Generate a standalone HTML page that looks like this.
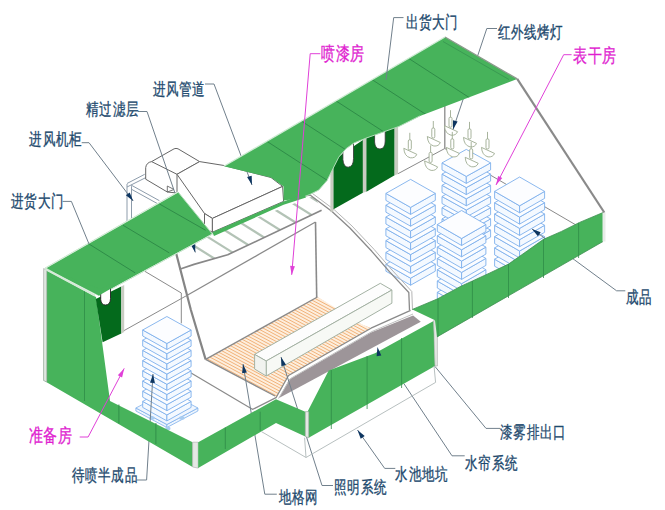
<!DOCTYPE html><html><head><meta charset="utf-8"><style>html,body{margin:0;padding:0;background:#fff;width:665px;height:510px;overflow:hidden;position:relative}svg{display:block;position:absolute;left:0;top:0}.L{position:absolute;width:0;height:0}.L span{position:absolute;display:block;font-family:"Liberation Sans",sans-serif;white-space:nowrap}.b span{color:#1e4a6e;-webkit-text-stroke:1.2px #1e4a6e;font-size:17px;line-height:17px;letter-spacing:0.7px;left:-1.7px;top:-8.08px;transform-origin:0 8.08px;transform:scaleY(1.43)}.p span{color:#e01ed0;-webkit-text-stroke:1.2px #e01ed0;font-size:18.5px;line-height:18.5px;letter-spacing:1.8px;left:-1.85px;top:-8.79px;transform-origin:0 8.79px;transform:scaleY(1.47)}.cjk .b span{-webkit-text-stroke:0.25px #1e4a6e;font-size:12.5px;line-height:12.5px;letter-spacing:0.15px;left:-0.4px;top:-4.8px;transform-origin:0 6.25px;transform:scaleY(1.36)}.cjk .p span{-webkit-text-stroke:0.25px #e01ed0;font-size:14px;line-height:14px;letter-spacing:0.3px;left:-0.4px;top:-7px;transform-origin:0 7px;transform:scaleY(1.36)}</style></head><body>
<svg width="665" height="510" viewBox="0 0 665 510">
<rect width="665" height="510" fill="#fff"/>
<polyline points="444.8,105.8 444.8,148.5" fill="none" stroke="#8a8a8a" stroke-width="1.3" stroke-linejoin="round" />
<polyline points="398.0,173.7 444.8,148.5 576.0,225.0" fill="none" stroke="#8a8a8a" stroke-width="1.0" stroke-linejoin="round" />
<polygon points="442.0,230.1 466.3,243.6 466.3,250.6 442.0,237.1" fill="#f4f9ff" stroke="#7eb0ec" stroke-width="0.9" stroke-linejoin="round"/>
<polygon points="466.3,243.6 490.6,230.1 490.6,237.1 466.3,250.6" fill="#f4f9ff" stroke="#7eb0ec" stroke-width="0.9" stroke-linejoin="round"/>
<polygon points="442.0,230.1 466.3,216.6 490.6,230.1 466.3,243.6" fill="#fcfdff" stroke="#7eb0ec" stroke-width="0.9" stroke-linejoin="round"/>
<polygon points="442.0,218.9 466.3,232.4 466.3,239.4 442.0,225.9" fill="#f4f9ff" stroke="#7eb0ec" stroke-width="0.9" stroke-linejoin="round"/>
<polygon points="466.3,232.4 490.6,218.9 490.6,225.9 466.3,239.4" fill="#f4f9ff" stroke="#7eb0ec" stroke-width="0.9" stroke-linejoin="round"/>
<polygon points="442.0,218.9 466.3,205.4 490.6,218.9 466.3,232.4" fill="#fcfdff" stroke="#7eb0ec" stroke-width="0.9" stroke-linejoin="round"/>
<polygon points="442.0,207.7 466.3,221.2 466.3,228.2 442.0,214.7" fill="#f4f9ff" stroke="#7eb0ec" stroke-width="0.9" stroke-linejoin="round"/>
<polygon points="466.3,221.2 490.6,207.7 490.6,214.7 466.3,228.2" fill="#f4f9ff" stroke="#7eb0ec" stroke-width="0.9" stroke-linejoin="round"/>
<polygon points="442.0,207.7 466.3,194.2 490.6,207.7 466.3,221.2" fill="#fcfdff" stroke="#7eb0ec" stroke-width="0.9" stroke-linejoin="round"/>
<polygon points="442.0,196.5 466.3,210.0 466.3,217.0 442.0,203.5" fill="#f4f9ff" stroke="#7eb0ec" stroke-width="0.9" stroke-linejoin="round"/>
<polygon points="466.3,210.0 490.6,196.5 490.6,203.5 466.3,217.0" fill="#f4f9ff" stroke="#7eb0ec" stroke-width="0.9" stroke-linejoin="round"/>
<polygon points="442.0,196.5 466.3,183.0 490.6,196.5 466.3,210.0" fill="#fcfdff" stroke="#7eb0ec" stroke-width="0.9" stroke-linejoin="round"/>
<polygon points="442.0,185.3 466.3,198.8 466.3,205.8 442.0,192.3" fill="#f4f9ff" stroke="#7eb0ec" stroke-width="0.9" stroke-linejoin="round"/>
<polygon points="466.3,198.8 490.6,185.3 490.6,192.3 466.3,205.8" fill="#f4f9ff" stroke="#7eb0ec" stroke-width="0.9" stroke-linejoin="round"/>
<polygon points="442.0,185.3 466.3,171.8 490.6,185.3 466.3,198.8" fill="#fcfdff" stroke="#7eb0ec" stroke-width="0.9" stroke-linejoin="round"/>
<polygon points="442.0,174.1 466.3,187.6 466.3,194.6 442.0,181.1" fill="#f4f9ff" stroke="#7eb0ec" stroke-width="0.9" stroke-linejoin="round"/>
<polygon points="466.3,187.6 490.6,174.1 490.6,181.1 466.3,194.6" fill="#f4f9ff" stroke="#7eb0ec" stroke-width="0.9" stroke-linejoin="round"/>
<polygon points="442.0,174.1 466.3,160.6 490.6,174.1 466.3,187.6" fill="#fcfdff" stroke="#7eb0ec" stroke-width="0.9" stroke-linejoin="round"/>
<polygon points="442.0,162.9 466.3,176.4 466.3,183.4 442.0,169.9" fill="#f4f9ff" stroke="#7eb0ec" stroke-width="0.9" stroke-linejoin="round"/>
<polygon points="466.3,176.4 490.6,162.9 490.6,169.9 466.3,183.4" fill="#f4f9ff" stroke="#7eb0ec" stroke-width="0.9" stroke-linejoin="round"/>
<polygon points="442.0,162.9 466.3,149.4 490.6,162.9 466.3,176.4" fill="#fcfdff" stroke="#7eb0ec" stroke-width="0.9" stroke-linejoin="round"/>
<polygon points="385.9,264.2 410.6,278.2 410.6,285.2 385.9,271.2" fill="#f4f9ff" stroke="#7eb0ec" stroke-width="0.9" stroke-linejoin="round"/>
<polygon points="410.6,278.2 435.3,264.2 435.3,271.2 410.6,285.2" fill="#f4f9ff" stroke="#7eb0ec" stroke-width="0.9" stroke-linejoin="round"/>
<polygon points="385.9,264.2 410.6,250.2 435.3,264.2 410.6,278.2" fill="#fcfdff" stroke="#7eb0ec" stroke-width="0.9" stroke-linejoin="round"/>
<polygon points="385.9,252.4 410.6,266.4 410.6,273.4 385.9,259.4" fill="#f4f9ff" stroke="#7eb0ec" stroke-width="0.9" stroke-linejoin="round"/>
<polygon points="410.6,266.4 435.3,252.4 435.3,259.4 410.6,273.4" fill="#f4f9ff" stroke="#7eb0ec" stroke-width="0.9" stroke-linejoin="round"/>
<polygon points="385.9,252.4 410.6,238.4 435.3,252.4 410.6,266.4" fill="#fcfdff" stroke="#7eb0ec" stroke-width="0.9" stroke-linejoin="round"/>
<polygon points="385.9,240.6 410.6,254.6 410.6,261.6 385.9,247.6" fill="#f4f9ff" stroke="#7eb0ec" stroke-width="0.9" stroke-linejoin="round"/>
<polygon points="410.6,254.6 435.3,240.6 435.3,247.6 410.6,261.6" fill="#f4f9ff" stroke="#7eb0ec" stroke-width="0.9" stroke-linejoin="round"/>
<polygon points="385.9,240.6 410.6,226.6 435.3,240.6 410.6,254.6" fill="#fcfdff" stroke="#7eb0ec" stroke-width="0.9" stroke-linejoin="round"/>
<polygon points="385.9,228.8 410.6,242.8 410.6,249.8 385.9,235.8" fill="#f4f9ff" stroke="#7eb0ec" stroke-width="0.9" stroke-linejoin="round"/>
<polygon points="410.6,242.8 435.3,228.8 435.3,235.8 410.6,249.8" fill="#f4f9ff" stroke="#7eb0ec" stroke-width="0.9" stroke-linejoin="round"/>
<polygon points="385.9,228.8 410.6,214.8 435.3,228.8 410.6,242.8" fill="#fcfdff" stroke="#7eb0ec" stroke-width="0.9" stroke-linejoin="round"/>
<polygon points="385.9,217.0 410.6,231.0 410.6,238.0 385.9,224.0" fill="#f4f9ff" stroke="#7eb0ec" stroke-width="0.9" stroke-linejoin="round"/>
<polygon points="410.6,231.0 435.3,217.0 435.3,224.0 410.6,238.0" fill="#f4f9ff" stroke="#7eb0ec" stroke-width="0.9" stroke-linejoin="round"/>
<polygon points="385.9,217.0 410.6,203.0 435.3,217.0 410.6,231.0" fill="#fcfdff" stroke="#7eb0ec" stroke-width="0.9" stroke-linejoin="round"/>
<polygon points="385.9,205.2 410.6,219.2 410.6,226.2 385.9,212.2" fill="#f4f9ff" stroke="#7eb0ec" stroke-width="0.9" stroke-linejoin="round"/>
<polygon points="410.6,219.2 435.3,205.2 435.3,212.2 410.6,226.2" fill="#f4f9ff" stroke="#7eb0ec" stroke-width="0.9" stroke-linejoin="round"/>
<polygon points="385.9,205.2 410.6,191.2 435.3,205.2 410.6,219.2" fill="#fcfdff" stroke="#7eb0ec" stroke-width="0.9" stroke-linejoin="round"/>
<polygon points="385.9,193.4 410.6,207.4 410.6,214.4 385.9,200.4" fill="#f4f9ff" stroke="#7eb0ec" stroke-width="0.9" stroke-linejoin="round"/>
<polygon points="410.6,207.4 435.3,193.4 435.3,200.4 410.6,214.4" fill="#f4f9ff" stroke="#7eb0ec" stroke-width="0.9" stroke-linejoin="round"/>
<polygon points="385.9,193.4 410.6,179.4 435.3,193.4 410.6,207.4" fill="#fcfdff" stroke="#7eb0ec" stroke-width="0.9" stroke-linejoin="round"/>
<polygon points="494.6,259.2 519.6,273.6 519.6,280.6 494.6,266.2" fill="#f4f9ff" stroke="#7eb0ec" stroke-width="0.9" stroke-linejoin="round"/>
<polygon points="519.6,273.6 544.6,259.2 544.6,266.2 519.6,280.6" fill="#f4f9ff" stroke="#7eb0ec" stroke-width="0.9" stroke-linejoin="round"/>
<polygon points="494.6,259.2 519.6,244.8 544.6,259.2 519.6,273.6" fill="#fcfdff" stroke="#7eb0ec" stroke-width="0.9" stroke-linejoin="round"/>
<polygon points="494.6,247.9 519.6,262.3 519.6,269.3 494.6,254.9" fill="#f4f9ff" stroke="#7eb0ec" stroke-width="0.9" stroke-linejoin="round"/>
<polygon points="519.6,262.3 544.6,247.9 544.6,254.9 519.6,269.3" fill="#f4f9ff" stroke="#7eb0ec" stroke-width="0.9" stroke-linejoin="round"/>
<polygon points="494.6,247.9 519.6,233.5 544.6,247.9 519.6,262.3" fill="#fcfdff" stroke="#7eb0ec" stroke-width="0.9" stroke-linejoin="round"/>
<polygon points="494.6,236.6 519.6,251.0 519.6,258.0 494.6,243.6" fill="#f4f9ff" stroke="#7eb0ec" stroke-width="0.9" stroke-linejoin="round"/>
<polygon points="519.6,251.0 544.6,236.6 544.6,243.6 519.6,258.0" fill="#f4f9ff" stroke="#7eb0ec" stroke-width="0.9" stroke-linejoin="round"/>
<polygon points="494.6,236.6 519.6,222.2 544.6,236.6 519.6,251.0" fill="#fcfdff" stroke="#7eb0ec" stroke-width="0.9" stroke-linejoin="round"/>
<polygon points="494.6,225.3 519.6,239.7 519.6,246.7 494.6,232.3" fill="#f4f9ff" stroke="#7eb0ec" stroke-width="0.9" stroke-linejoin="round"/>
<polygon points="519.6,239.7 544.6,225.3 544.6,232.3 519.6,246.7" fill="#f4f9ff" stroke="#7eb0ec" stroke-width="0.9" stroke-linejoin="round"/>
<polygon points="494.6,225.3 519.6,210.9 544.6,225.3 519.6,239.7" fill="#fcfdff" stroke="#7eb0ec" stroke-width="0.9" stroke-linejoin="round"/>
<polygon points="494.6,214.0 519.6,228.4 519.6,235.4 494.6,221.0" fill="#f4f9ff" stroke="#7eb0ec" stroke-width="0.9" stroke-linejoin="round"/>
<polygon points="519.6,228.4 544.6,214.0 544.6,221.0 519.6,235.4" fill="#f4f9ff" stroke="#7eb0ec" stroke-width="0.9" stroke-linejoin="round"/>
<polygon points="494.6,214.0 519.6,199.6 544.6,214.0 519.6,228.4" fill="#fcfdff" stroke="#7eb0ec" stroke-width="0.9" stroke-linejoin="round"/>
<polygon points="494.6,202.7 519.6,217.1 519.6,224.1 494.6,209.7" fill="#f4f9ff" stroke="#7eb0ec" stroke-width="0.9" stroke-linejoin="round"/>
<polygon points="519.6,217.1 544.6,202.7 544.6,209.7 519.6,224.1" fill="#f4f9ff" stroke="#7eb0ec" stroke-width="0.9" stroke-linejoin="round"/>
<polygon points="494.6,202.7 519.6,188.3 544.6,202.7 519.6,217.1" fill="#fcfdff" stroke="#7eb0ec" stroke-width="0.9" stroke-linejoin="round"/>
<polygon points="494.6,191.4 519.6,205.8 519.6,212.8 494.6,198.4" fill="#f4f9ff" stroke="#7eb0ec" stroke-width="0.9" stroke-linejoin="round"/>
<polygon points="519.6,205.8 544.6,191.4 544.6,198.4 519.6,212.8" fill="#f4f9ff" stroke="#7eb0ec" stroke-width="0.9" stroke-linejoin="round"/>
<polygon points="494.6,191.4 519.6,177.0 544.6,191.4 519.6,205.8" fill="#fcfdff" stroke="#7eb0ec" stroke-width="0.9" stroke-linejoin="round"/>
<polygon points="437.3,292.3 461.6,306.3 461.6,313.3 437.3,299.3" fill="#f4f9ff" stroke="#7eb0ec" stroke-width="0.9" stroke-linejoin="round"/>
<polygon points="461.6,306.3 485.9,292.3 485.9,299.3 461.6,313.3" fill="#f4f9ff" stroke="#7eb0ec" stroke-width="0.9" stroke-linejoin="round"/>
<polygon points="437.3,292.3 461.6,278.3 485.9,292.3 461.6,306.3" fill="#fcfdff" stroke="#7eb0ec" stroke-width="0.9" stroke-linejoin="round"/>
<polygon points="437.3,281.0 461.6,295.0 461.6,302.0 437.3,288.0" fill="#f4f9ff" stroke="#7eb0ec" stroke-width="0.9" stroke-linejoin="round"/>
<polygon points="461.6,295.0 485.9,281.0 485.9,288.0 461.6,302.0" fill="#f4f9ff" stroke="#7eb0ec" stroke-width="0.9" stroke-linejoin="round"/>
<polygon points="437.3,281.0 461.6,267.0 485.9,281.0 461.6,295.0" fill="#fcfdff" stroke="#7eb0ec" stroke-width="0.9" stroke-linejoin="round"/>
<polygon points="437.3,269.7 461.6,283.7 461.6,290.7 437.3,276.7" fill="#f4f9ff" stroke="#7eb0ec" stroke-width="0.9" stroke-linejoin="round"/>
<polygon points="461.6,283.7 485.9,269.7 485.9,276.7 461.6,290.7" fill="#f4f9ff" stroke="#7eb0ec" stroke-width="0.9" stroke-linejoin="round"/>
<polygon points="437.3,269.7 461.6,255.7 485.9,269.7 461.6,283.7" fill="#fcfdff" stroke="#7eb0ec" stroke-width="0.9" stroke-linejoin="round"/>
<polygon points="437.3,258.4 461.6,272.4 461.6,279.4 437.3,265.4" fill="#f4f9ff" stroke="#7eb0ec" stroke-width="0.9" stroke-linejoin="round"/>
<polygon points="461.6,272.4 485.9,258.4 485.9,265.4 461.6,279.4" fill="#f4f9ff" stroke="#7eb0ec" stroke-width="0.9" stroke-linejoin="round"/>
<polygon points="437.3,258.4 461.6,244.4 485.9,258.4 461.6,272.4" fill="#fcfdff" stroke="#7eb0ec" stroke-width="0.9" stroke-linejoin="round"/>
<polygon points="437.3,247.1 461.6,261.1 461.6,268.1 437.3,254.1" fill="#f4f9ff" stroke="#7eb0ec" stroke-width="0.9" stroke-linejoin="round"/>
<polygon points="461.6,261.1 485.9,247.1 485.9,254.1 461.6,268.1" fill="#f4f9ff" stroke="#7eb0ec" stroke-width="0.9" stroke-linejoin="round"/>
<polygon points="437.3,247.1 461.6,233.1 485.9,247.1 461.6,261.1" fill="#fcfdff" stroke="#7eb0ec" stroke-width="0.9" stroke-linejoin="round"/>
<polygon points="437.3,235.8 461.6,249.8 461.6,256.8 437.3,242.8" fill="#f4f9ff" stroke="#7eb0ec" stroke-width="0.9" stroke-linejoin="round"/>
<polygon points="461.6,249.8 485.9,235.8 485.9,242.8 461.6,256.8" fill="#f4f9ff" stroke="#7eb0ec" stroke-width="0.9" stroke-linejoin="round"/>
<polygon points="437.3,235.8 461.6,221.8 485.9,235.8 461.6,249.8" fill="#fcfdff" stroke="#7eb0ec" stroke-width="0.9" stroke-linejoin="round"/>
<polygon points="437.3,224.5 461.6,238.5 461.6,245.5 437.3,231.5" fill="#f4f9ff" stroke="#7eb0ec" stroke-width="0.9" stroke-linejoin="round"/>
<polygon points="461.6,238.5 485.9,224.5 485.9,231.5 461.6,245.5" fill="#f4f9ff" stroke="#7eb0ec" stroke-width="0.9" stroke-linejoin="round"/>
<polygon points="437.3,224.5 461.6,210.5 485.9,224.5 461.6,238.5" fill="#fcfdff" stroke="#7eb0ec" stroke-width="0.9" stroke-linejoin="round"/>
<g stroke="#9eac92" stroke-width="0.9" fill="#fff"><path d="M409.8,132.8 L409.8,140.8" fill="none"/><rect x="408.3" y="139.8" width="3" height="10" rx="1.2"/><path d="M403.8,148.3 L416.8,154.3 Q415.3,158.3 410.3,157.8 Q404.3,156.3 403.8,148.3 Z"/></g>
<g stroke="#9eac92" stroke-width="0.9" fill="#fff"><path d="M433.3,121 L433.3,129" fill="none"/><rect x="431.8" y="128" width="3" height="10" rx="1.2"/><path d="M427.3,136.5 L440.3,142.5 Q438.8,146.5 433.8,146 Q427.8,144.5 427.3,136.5 Z"/></g>
<g stroke="#9eac92" stroke-width="0.9" fill="#fff"><path d="M450.5,110.19999999999999 L450.5,118.19999999999999" fill="none"/><rect x="449" y="117.19999999999999" width="3" height="10" rx="1.2"/><path d="M444.5,125.69999999999999 L457.5,131.7 Q456,135.7 451,135.2 Q445,133.7 444.5,125.69999999999999 Z"/></g>
<g stroke="#9eac92" stroke-width="0.9" fill="#fff"><path d="M430.6,145.4 L430.6,153.4" fill="none"/><rect x="429.1" y="152.4" width="3" height="10" rx="1.2"/><path d="M424.6,160.9 L437.6,166.9 Q436.1,170.9 431.1,170.4 Q425.1,168.9 424.6,160.9 Z"/></g>
<g stroke="#9eac92" stroke-width="0.9" fill="#fff"><path d="M452.3,131.9 L452.3,139.9" fill="none"/><rect x="450.8" y="138.9" width="3" height="10" rx="1.2"/><path d="M446.3,147.4 L459.3,153.4 Q457.8,157.4 452.8,156.9 Q446.8,155.4 446.3,147.4 Z"/></g>
<g stroke="#9eac92" stroke-width="0.9" fill="#fff"><path d="M469.5,121.9 L469.5,129.9" fill="none"/><rect x="468" y="128.9" width="3" height="10" rx="1.2"/><path d="M463.5,137.4 L476.5,143.4 Q475,147.4 470,146.9 Q464,145.4 463.5,137.4 Z"/></g>
<g stroke="#9eac92" stroke-width="0.9" fill="#fff"><path d="M487.5,131.9 L487.5,139.9" fill="none"/><rect x="486" y="138.9" width="3" height="10" rx="1.2"/><path d="M481.5,147.4 L494.5,153.4 Q493,157.4 488,156.9 Q482,155.4 481.5,147.4 Z"/></g>
<g stroke="#9eac92" stroke-width="0.9" fill="#fff"><path d="M471.2,141.8 L471.2,149.8" fill="none"/><rect x="469.7" y="148.8" width="3" height="10" rx="1.2"/><path d="M465.2,157.3 L478.2,163.3 Q476.7,167.3 471.7,166.8 Q465.7,165.3 465.2,157.3 Z"/></g>
<polyline points="176.0,252.7 190.9,310.0 205.6,359.4" fill="none" stroke="#858585" stroke-width="2.2" stroke-linejoin="round" />
<polyline points="315.5,222.0 316.7,297.0" fill="none" stroke="#8a8a8a" stroke-width="1.6" stroke-linejoin="round" />
<defs><clipPath id="cs"><polygon points="179.6,269.2 194.0,264.4 227.7,254.8 321.6,210.3 314.4,195.8 213.3,234.3 175.0,252.0"/></clipPath></defs>
<g clip-path="url(#cs)" stroke="#b3c3b6" stroke-width="2.2">
<line x1="182.0" y1="238.3" x2="222.0" y2="263.3"/>
<line x1="199.2" y1="231.6" x2="239.2" y2="256.6"/>
<line x1="216.4" y1="225.0" x2="256.4" y2="250.0"/>
<line x1="233.6" y1="218.4" x2="273.6" y2="243.4"/>
<line x1="250.8" y1="211.8" x2="290.8" y2="236.8"/>
<line x1="268.0" y1="205.2" x2="308.0" y2="230.2"/>
<line x1="285.2" y1="198.5" x2="325.2" y2="223.5"/>
<line x1="302.4" y1="191.9" x2="342.4" y2="216.9"/>
<line x1="319.6" y1="185.3" x2="359.6" y2="210.3"/>
</g>
<polyline points="179.6,269.2 194.0,264.4 227.7,254.8 321.6,210.3" fill="none" stroke="#888" stroke-width="1.7" stroke-linejoin="round" />
<polyline points="187.7,295.0 315.5,222.0" fill="none" stroke="#8a8a8a" stroke-width="1.3" stroke-linejoin="round" />
<defs><clipPath id="cg"><polygon points="205.6,359.4 317.4,297.0 336.0,308.0 362.0,324.4 371.0,328.2 288.5,375.5 276.0,397.7 275.0,396.0"/></clipPath></defs>
<polygon points="205.6,359.4 317.4,297.0 336.0,308.0 362.0,324.4 371.0,328.2 288.5,375.5 276.0,397.7 275.0,396.0" fill="#fdeedd" stroke="none" stroke-width="1" stroke-linejoin="round" />
<g clip-path="url(#cg)" stroke="#f1b27a" stroke-width="1">
<line x1="180.0" y1="373.0" x2="300.0" y2="437.0"/>
<line x1="182.9" y1="371.4" x2="302.9" y2="435.4"/>
<line x1="185.8" y1="369.7" x2="305.8" y2="433.7"/>
<line x1="188.7" y1="368.1" x2="308.7" y2="432.1"/>
<line x1="191.6" y1="366.4" x2="311.6" y2="430.4"/>
<line x1="194.5" y1="364.8" x2="314.5" y2="428.8"/>
<line x1="197.4" y1="363.2" x2="317.4" y2="427.2"/>
<line x1="200.3" y1="361.5" x2="320.3" y2="425.5"/>
<line x1="203.2" y1="359.9" x2="323.2" y2="423.9"/>
<line x1="206.1" y1="358.3" x2="326.1" y2="422.3"/>
<line x1="209.0" y1="356.6" x2="329.0" y2="420.6"/>
<line x1="211.9" y1="355.0" x2="331.9" y2="419.0"/>
<line x1="214.8" y1="353.3" x2="334.8" y2="417.3"/>
<line x1="217.7" y1="351.7" x2="337.7" y2="415.7"/>
<line x1="220.6" y1="350.1" x2="340.6" y2="414.1"/>
<line x1="223.5" y1="348.4" x2="343.5" y2="412.4"/>
<line x1="226.4" y1="346.8" x2="346.4" y2="410.8"/>
<line x1="229.3" y1="345.1" x2="349.3" y2="409.1"/>
<line x1="232.2" y1="343.5" x2="352.2" y2="407.5"/>
<line x1="235.1" y1="341.9" x2="355.1" y2="405.9"/>
<line x1="238.0" y1="340.2" x2="358.0" y2="404.2"/>
<line x1="240.9" y1="338.6" x2="360.9" y2="402.6"/>
<line x1="243.8" y1="337.0" x2="363.8" y2="401.0"/>
<line x1="246.7" y1="335.3" x2="366.7" y2="399.3"/>
<line x1="249.6" y1="333.7" x2="369.6" y2="397.7"/>
<line x1="252.5" y1="332.0" x2="372.5" y2="396.0"/>
<line x1="255.4" y1="330.4" x2="375.4" y2="394.4"/>
<line x1="258.3" y1="328.8" x2="378.3" y2="392.8"/>
<line x1="261.2" y1="327.1" x2="381.2" y2="391.1"/>
<line x1="264.1" y1="325.5" x2="384.1" y2="389.5"/>
<line x1="267.0" y1="323.8" x2="387.0" y2="387.8"/>
<line x1="269.9" y1="322.2" x2="389.9" y2="386.2"/>
<line x1="272.8" y1="320.6" x2="392.8" y2="384.6"/>
<line x1="275.7" y1="318.9" x2="395.7" y2="382.9"/>
<line x1="278.6" y1="317.3" x2="398.6" y2="381.3"/>
<line x1="281.5" y1="315.7" x2="401.5" y2="379.7"/>
<line x1="284.4" y1="314.0" x2="404.4" y2="378.0"/>
<line x1="287.3" y1="312.4" x2="407.3" y2="376.4"/>
<line x1="290.2" y1="310.7" x2="410.2" y2="374.7"/>
<line x1="293.1" y1="309.1" x2="413.1" y2="373.1"/>
<line x1="296.0" y1="307.5" x2="416.0" y2="371.5"/>
<line x1="298.9" y1="305.8" x2="418.9" y2="369.8"/>
<line x1="301.8" y1="304.2" x2="421.8" y2="368.2"/>
<line x1="304.7" y1="302.5" x2="424.7" y2="366.5"/>
<line x1="307.6" y1="300.9" x2="427.6" y2="364.9"/>
<line x1="310.5" y1="299.3" x2="430.5" y2="363.3"/>
<line x1="313.4" y1="297.6" x2="433.4" y2="361.6"/>
<line x1="316.3" y1="296.0" x2="436.3" y2="360.0"/>
<line x1="319.2" y1="294.4" x2="439.2" y2="358.4"/>
<line x1="322.1" y1="292.7" x2="442.1" y2="356.7"/>
<line x1="325.0" y1="291.1" x2="445.0" y2="355.1"/>
<line x1="327.9" y1="289.4" x2="447.9" y2="353.4"/>
<line x1="330.8" y1="287.8" x2="450.8" y2="351.8"/>
<line x1="333.7" y1="286.2" x2="453.7" y2="350.2"/>
<line x1="336.6" y1="284.5" x2="456.6" y2="348.5"/>
<line x1="339.5" y1="282.9" x2="459.5" y2="346.9"/>
<line x1="342.4" y1="281.2" x2="462.4" y2="345.2"/>
<line x1="345.3" y1="279.6" x2="465.3" y2="343.6"/>
<line x1="348.2" y1="278.0" x2="468.2" y2="342.0"/>
<line x1="351.1" y1="276.3" x2="471.1" y2="340.3"/>
<line x1="354.0" y1="274.7" x2="474.0" y2="338.7"/>
<line x1="356.9" y1="273.1" x2="476.9" y2="337.1"/>
<line x1="359.8" y1="271.4" x2="479.8" y2="335.4"/>
<line x1="362.7" y1="269.8" x2="482.7" y2="333.8"/>
<line x1="365.6" y1="268.1" x2="485.6" y2="332.1"/>
<line x1="368.5" y1="266.5" x2="488.5" y2="330.5"/>
<line x1="371.4" y1="264.9" x2="491.4" y2="328.9"/>
<line x1="374.3" y1="263.2" x2="494.3" y2="327.2"/>
<line x1="377.2" y1="261.6" x2="497.2" y2="325.6"/>
<line x1="380.1" y1="259.9" x2="500.1" y2="323.9"/>
<line x1="383.0" y1="258.3" x2="503.0" y2="322.3"/>
<line x1="385.9" y1="256.7" x2="505.9" y2="320.7"/>
<line x1="388.8" y1="255.0" x2="508.8" y2="319.0"/>
<line x1="391.7" y1="253.4" x2="511.7" y2="317.4"/>
<line x1="394.6" y1="251.8" x2="514.6" y2="315.8"/>
<line x1="397.5" y1="250.1" x2="517.5" y2="314.1"/>
<line x1="400.4" y1="248.5" x2="520.4" y2="312.5"/>
<line x1="403.3" y1="246.8" x2="523.3" y2="310.8"/>
<line x1="406.2" y1="245.2" x2="526.2" y2="309.2"/>
<line x1="409.1" y1="243.6" x2="529.1" y2="307.6"/>
<line x1="412.0" y1="241.9" x2="532.0" y2="305.9"/>
<line x1="414.9" y1="240.3" x2="534.9" y2="304.3"/>
<line x1="417.8" y1="238.6" x2="537.8" y2="302.6"/>
<line x1="420.7" y1="237.0" x2="540.7" y2="301.0"/>
<line x1="423.6" y1="235.4" x2="543.6" y2="299.4"/>
<line x1="426.5" y1="233.7" x2="546.5" y2="297.7"/>
<line x1="429.4" y1="232.1" x2="549.4" y2="296.1"/>
<line x1="432.3" y1="230.5" x2="552.3" y2="294.5"/>
<line x1="435.2" y1="228.8" x2="555.2" y2="292.8"/>
<line x1="438.1" y1="227.2" x2="558.1" y2="291.2"/>
<line x1="441.0" y1="225.5" x2="561.0" y2="289.5"/>
<line x1="443.9" y1="223.9" x2="563.9" y2="287.9"/>
<line x1="446.8" y1="222.3" x2="566.8" y2="286.3"/>
<line x1="449.7" y1="220.6" x2="569.7" y2="284.6"/>
<line x1="452.6" y1="219.0" x2="572.6" y2="283.0"/>
</g>
<polyline points="205.6,359.4 317.4,297.0" fill="none" stroke="#8a8a8a" stroke-width="1.4" stroke-linejoin="round" />
<polyline points="205.6,359.4 275.0,396.0" fill="none" stroke="#8a8a8a" stroke-width="1.4" stroke-linejoin="round" />
<polyline points="186.0,370.0 252.8,409.5" fill="none" stroke="#8a8a8a" stroke-width="1.2" stroke-linejoin="round" />
<polygon points="254.6,354.4 380.3,283.3 391.9,290.0 266.2,361.0" fill="#fdfdfd" stroke="#a4b2a4" stroke-width="1" stroke-linejoin="round" />
<polygon points="266.2,361.0 391.9,290.0 391.9,303.2 266.2,376.0" fill="#f7f9f5" stroke="#a4b2a4" stroke-width="1" stroke-linejoin="round" />
<polygon points="254.6,354.4 266.2,361.0 266.2,376.0 254.6,369.0" fill="#f1f3ef" stroke="#a4b2a4" stroke-width="1" stroke-linejoin="round" />
<polygon points="279.0,398.0 289.2,379.6 371.0,332.5 413.1,315.5 420.8,321.8" fill="#9d9599" stroke="none" stroke-width="1" stroke-linejoin="round" />
<polyline points="252.3,409.5 276.0,397.7 288.5,375.5 371.0,328.2 410.6,310.3" fill="none" stroke="#8a8a8a" stroke-width="1.3" stroke-linejoin="round" />
<polyline points="278.5,398.5 290.5,378.5 372.0,331.5 413.0,314.0" fill="none" stroke="#c0c0c0" stroke-width="1.0" stroke-linejoin="round" />
<polyline points="290.0,198.7 310.1,195.1 332.0,211.5 349.9,228.0 371.8,251.3 389.6,271.9 408.8,292.5 409.5,310.0" fill="none" stroke="#8a8a8a" stroke-width="1.3" stroke-linejoin="round" />
<polyline points="312.5,193.5 334.0,209.5 352.0,226.0 374.0,249.3 392.0,270.0 411.8,291.5 412.5,310.0" fill="none" stroke="#b5b5b5" stroke-width="1.0" stroke-linejoin="round" />
<polyline points="145.0,271.4 181.3,293.0 181.3,323.3" fill="none" stroke="#8a8a8a" stroke-width="1.0" stroke-linejoin="round" />
<polyline points="121.5,332.0 187.7,295.0" fill="none" stroke="#8a8a8a" stroke-width="1.0" stroke-linejoin="round" />
<polygon points="135.9,408.0 166.9,424.5 166.9,427.5 135.9,411.0" fill="#eef5fd" stroke="#7eb0ec" stroke-width="0.8"/>
<polygon points="166.9,424.5 197.9,408.0 197.9,411.0 166.9,427.5" fill="#eef5fd" stroke="#7eb0ec" stroke-width="0.8"/>
<polygon points="135.9,408.0 166.9,391.5 197.9,408.0 166.9,424.5" fill="#f0f6fe" stroke="#7eb0ec" stroke-width="0.8"/>
<rect x="165.4" y="427.0" width="5" height="3" rx="1" fill="#a8ccf0"/>
<rect x="179.4" y="416.5" width="5" height="3" rx="1" fill="#a8ccf0"/>
<rect x="149.4" y="416.5" width="5" height="3" rx="1" fill="#a8ccf0"/>
<polygon points="142.7,401.4 166.9,414.9 166.9,420.9 142.7,407.4" fill="#f4f9ff" stroke="#7eb0ec" stroke-width="0.9" stroke-linejoin="round"/>
<polygon points="166.9,414.9 191.1,401.4 191.1,407.4 166.9,420.9" fill="#f4f9ff" stroke="#7eb0ec" stroke-width="0.9" stroke-linejoin="round"/>
<polygon points="142.7,401.4 166.9,387.9 191.1,401.4 166.9,414.9" fill="#fcfdff" stroke="#7eb0ec" stroke-width="0.9" stroke-linejoin="round"/>
<polygon points="142.7,391.2 166.9,404.7 166.9,410.7 142.7,397.2" fill="#f4f9ff" stroke="#7eb0ec" stroke-width="0.9" stroke-linejoin="round"/>
<polygon points="166.9,404.7 191.1,391.2 191.1,397.2 166.9,410.7" fill="#f4f9ff" stroke="#7eb0ec" stroke-width="0.9" stroke-linejoin="round"/>
<polygon points="142.7,391.2 166.9,377.7 191.1,391.2 166.9,404.7" fill="#fcfdff" stroke="#7eb0ec" stroke-width="0.9" stroke-linejoin="round"/>
<polygon points="142.7,381.0 166.9,394.5 166.9,400.5 142.7,387.0" fill="#f4f9ff" stroke="#7eb0ec" stroke-width="0.9" stroke-linejoin="round"/>
<polygon points="166.9,394.5 191.1,381.0 191.1,387.0 166.9,400.5" fill="#f4f9ff" stroke="#7eb0ec" stroke-width="0.9" stroke-linejoin="round"/>
<polygon points="142.7,381.0 166.9,367.5 191.1,381.0 166.9,394.5" fill="#fcfdff" stroke="#7eb0ec" stroke-width="0.9" stroke-linejoin="round"/>
<polygon points="142.7,370.8 166.9,384.3 166.9,390.3 142.7,376.8" fill="#f4f9ff" stroke="#7eb0ec" stroke-width="0.9" stroke-linejoin="round"/>
<polygon points="166.9,384.3 191.1,370.8 191.1,376.8 166.9,390.3" fill="#f4f9ff" stroke="#7eb0ec" stroke-width="0.9" stroke-linejoin="round"/>
<polygon points="142.7,370.8 166.9,357.3 191.1,370.8 166.9,384.3" fill="#fcfdff" stroke="#7eb0ec" stroke-width="0.9" stroke-linejoin="round"/>
<polygon points="142.7,360.6 166.9,374.1 166.9,380.1 142.7,366.6" fill="#f4f9ff" stroke="#7eb0ec" stroke-width="0.9" stroke-linejoin="round"/>
<polygon points="166.9,374.1 191.1,360.6 191.1,366.6 166.9,380.1" fill="#f4f9ff" stroke="#7eb0ec" stroke-width="0.9" stroke-linejoin="round"/>
<polygon points="142.7,360.6 166.9,347.1 191.1,360.6 166.9,374.1" fill="#fcfdff" stroke="#7eb0ec" stroke-width="0.9" stroke-linejoin="round"/>
<polygon points="142.7,350.4 166.9,363.9 166.9,369.9 142.7,356.4" fill="#f4f9ff" stroke="#7eb0ec" stroke-width="0.9" stroke-linejoin="round"/>
<polygon points="166.9,363.9 191.1,350.4 191.1,356.4 166.9,369.9" fill="#f4f9ff" stroke="#7eb0ec" stroke-width="0.9" stroke-linejoin="round"/>
<polygon points="142.7,350.4 166.9,336.9 191.1,350.4 166.9,363.9" fill="#fcfdff" stroke="#7eb0ec" stroke-width="0.9" stroke-linejoin="round"/>
<polygon points="142.7,340.2 166.9,353.7 166.9,359.7 142.7,346.2" fill="#f4f9ff" stroke="#7eb0ec" stroke-width="0.9" stroke-linejoin="round"/>
<polygon points="166.9,353.7 191.1,340.2 191.1,346.2 166.9,359.7" fill="#f4f9ff" stroke="#7eb0ec" stroke-width="0.9" stroke-linejoin="round"/>
<polygon points="142.7,340.2 166.9,326.7 191.1,340.2 166.9,353.7" fill="#fcfdff" stroke="#7eb0ec" stroke-width="0.9" stroke-linejoin="round"/>
<polygon points="142.7,330.0 166.9,343.5 166.9,349.5 142.7,336.0" fill="#f4f9ff" stroke="#7eb0ec" stroke-width="0.9" stroke-linejoin="round"/>
<polygon points="166.9,343.5 191.1,330.0 191.1,336.0 166.9,349.5" fill="#f4f9ff" stroke="#7eb0ec" stroke-width="0.9" stroke-linejoin="round"/>
<polygon points="142.7,330.0 166.9,316.5 191.1,330.0 166.9,343.5" fill="#fcfdff" stroke="#7eb0ec" stroke-width="0.9" stroke-linejoin="round"/>
<polyline points="127.0,184.0 127.0,250.0" fill="none" stroke="#8d9cab" stroke-width="1" stroke-linejoin="round" />
<polyline points="131.5,186.2 131.5,250.0" fill="none" stroke="#8d9cab" stroke-width="1" stroke-linejoin="round" />
<polyline points="127.0,183.5 144.7,174.3" fill="none" stroke="#8d9cab" stroke-width="1" stroke-linejoin="round" />
<polyline points="127.0,187.0 146.0,177.5" fill="none" stroke="#8d9cab" stroke-width="1" stroke-linejoin="round" />
<polyline points="131.0,185.0 159.4,200.7" fill="none" stroke="#8d9cab" stroke-width="1" stroke-linejoin="round" />
<polyline points="131.0,189.0 159.4,204.7" fill="none" stroke="#8d9cab" stroke-width="1" stroke-linejoin="round" />
<path d="M145.7,179.2 L145.7,167.5 Q146.5,162.5 151.6,161.6 L174.1,148.8 Q176,148 178,148.8 L199.6,161.6 L177,174.3 L177,193 L167.3,192 L145.7,179.2 Z" fill="#fff" stroke="#666" stroke-width="1"/>
<polyline points="151.6,161.6 177.0,174.3" fill="none" stroke="#666" stroke-width="1" stroke-linejoin="round" />
<polyline points="167.3,186.0 167.3,192.0 174.0,189.5 167.3,186.0" fill="none" stroke="#666" stroke-width="0.9" stroke-linejoin="round" />
<polygon points="177.0,174.3 199.6,161.6 224.1,165.5 271.0,177.5 282.6,186.4 212.4,218.4 204.5,213.5" fill="#fff" stroke="#666" stroke-width="1" stroke-linejoin="round" />
<polygon points="204.5,213.5 212.4,218.4 212.4,232.2 204.5,228.2" fill="#fff" stroke="#666" stroke-width="1" stroke-linejoin="round" />
<polygon points="212.4,218.4 282.6,186.4 283.6,201.4 212.4,232.2" fill="#fff" stroke="#666" stroke-width="1" stroke-linejoin="round" />
<polyline points="497.0,28.5 486.8,28.5 453.0,129.5" fill="none" stroke="#71808c" stroke-width="1" stroke-linejoin="round" />
<polygon points="453.0,129.5 453.0,120.2 457.6,121.4" fill="#0d3560"/>
<polyline points="205.0,84.0 214.0,84.0 252.0,185.0" fill="none" stroke="#71808c" stroke-width="1" stroke-linejoin="round" />
<polygon points="252.0,185.0 247.1,177.1 251.7,175.7" fill="#0d3560"/>
<polyline points="138.0,111.5 147.0,111.5 195.3,252.4" fill="none" stroke="#71808c" stroke-width="1" stroke-linejoin="round" />
<polygon points="195.3,252.4 190.6,244.4 195.2,243.1" fill="#0d3560"/>
<defs><clipPath id="cr"><polygon points="223.8,166.3 445.0,37.0 517.2,78.9 420.0,115.9 398.8,126.5 365.9,138.2 354.1,142.9 345.9,148.8 338.8,157.1 332.9,168.8 327.0,180.6 318.8,190.0 309.4,194.7 300.0,198.2 283.6,200.5 283.6,186.4 271.0,177.5"/></clipPath></defs>
<polygon points="330.4,168.2 333.5,166.0 333.5,211.6 330.4,212.0" fill="#c9ccc2" stroke="none" stroke-width="1" stroke-linejoin="round" />
<polygon points="333.5,160.0 362.9,140.0 362.9,192.8 333.5,209.3" fill="#046a1c" stroke="none" stroke-width="1" stroke-linejoin="round" />
<polygon points="362.9,140.0 366.4,138.0 366.4,191.7 362.9,192.8" fill="#c9ccc2" stroke="none" stroke-width="1" stroke-linejoin="round" />
<polygon points="366.4,138.0 394.6,120.0 394.6,175.2 366.4,191.7" fill="#046a1c" stroke="none" stroke-width="1" stroke-linejoin="round" />
<polygon points="394.6,120.0 398.1,118.0 398.1,174.0 394.6,175.2" fill="#c9ccc2" stroke="none" stroke-width="1" stroke-linejoin="round" />
<path d="M342.9,142 L342.9,159.5 Q343.5,167.2 348.2,167.2 Q353.5,166.6 353.5,158.5 L353.5,137 Z" fill="#fff" stroke="#333" stroke-width="0.8"/>
<path d="M374.6,127 L374.6,142 Q375,149 380,149 Q385.2,148.5 385.2,141 L385.2,122 Z" fill="#fff" stroke="#333" stroke-width="0.8"/>
<polygon points="223.8,166.3 445.0,37.0 517.2,78.9 420.0,115.9 398.8,126.5 365.9,138.2 354.1,142.9 345.9,148.8 338.8,157.1 332.9,168.8 327.0,180.6 318.8,190.0 309.4,194.7 300.0,198.2 283.6,200.5 283.6,186.4 271.0,177.5" fill="#47b35b" stroke="none" stroke-width="1" stroke-linejoin="round" />
<g clip-path="url(#cr)" stroke="#2f8c48" stroke-width="1" fill="none">
<line x1="266.7" y1="141.2" x2="416.7" y2="238.2"/>
<line x1="301.3" y1="121.0" x2="451.3" y2="218.0"/>
<line x1="335.8" y1="100.8" x2="485.8" y2="197.8"/>
<line x1="372" y1="79.6" x2="522" y2="176.6"/>
<line x1="408.5" y1="58.3" x2="558.5" y2="155.3"/>
</g>
<polyline points="420.0,115.9 398.8,126.5 365.9,138.2 354.1,142.9 345.9,148.8 338.8,157.1 332.9,168.8 327.0,180.6 318.8,190.0 309.4,194.7 300.0,198.2" fill="none" stroke="#b0dcb8" stroke-width="1.0" stroke-linejoin="round" />
<polyline points="223.8,166.3 445.0,37.0" fill="none" stroke="#cfeBd4" stroke-width="1.3" stroke-linejoin="round" />
<polyline points="445.0,37.0 517.2,78.9" fill="none" stroke="#8c9a8c" stroke-width="1.4" stroke-linejoin="round" />
<polyline points="443.0,41.5 509.0,79.5" fill="none" stroke="#3a9a52" stroke-width="1.0" stroke-linejoin="round" />
<polygon points="212.4,232.2 283.6,201.4 304.0,194.0 306.0,197.5 283.6,204.8 214.0,236.0" fill="#47b35b" stroke="none" stroke-width="1" stroke-linejoin="round" />
<polygon points="45.5,268.0 178.0,192.0 212.4,234.1 99.0,295.6" fill="#47b35b" stroke="#b0dcb8" stroke-width="1" stroke-linejoin="round" />
<polyline points="99.0,295.6 212.4,234.1" fill="none" stroke="#cfe8d3" stroke-width="1.0" stroke-linejoin="round" />
<g stroke="#2f8c48" stroke-width="1"><line x1="89" y1="244" x2="135.4" y2="273"/><line x1="122.9" y1="225.2" x2="169.3" y2="252.9"/><line x1="159.3" y1="203.9" x2="205.7" y2="230.3"/></g>
<polyline points="625.3,290.8 616.6,290.8 574.4,259.8 532.0,229.0" fill="none" stroke="#71808c" stroke-width="1" stroke-linejoin="round" />
<polygon points="532.0,229.0 540.7,232.3 537.9,236.2" fill="#0d3560"/>
<polyline points="464.7,455.8 452.0,455.8 404.0,383.8" fill="none" stroke="#71808c" stroke-width="1" stroke-linejoin="round" />
<polyline points="333.0,485.5 322.0,485.5 281.0,357.0" fill="none" stroke="#71808c" stroke-width="1" stroke-linejoin="round" />
<polygon points="281.0,357.0 286.0,364.8 281.4,366.3" fill="#0d3560"/>
<polyline points="276.8,494.2 264.8,494.2 243.0,364.0" fill="none" stroke="#71808c" stroke-width="1" stroke-linejoin="round" />
<polygon points="243.0,364.0 246.9,372.5 242.1,373.3" fill="#0d3560"/>
<polyline points="136.8,480.0 146.6,480.0 153.0,374.0" fill="none" stroke="#71808c" stroke-width="1" stroke-linejoin="round" />
<polygon points="153.0,374.0 154.9,383.1 150.1,382.8" fill="#0d3560"/>
<polygon points="44.0,269.0 96.0,297.0 110.0,401.0 192.6,442.2 192.6,467.0 43.6,380.5" fill="#47b35b" stroke="none" stroke-width="1" stroke-linejoin="round" />
<polygon points="43.6,268.5 46.8,270.0 46.8,382.0 43.6,380.5" fill="#dfe6df" stroke="#999" stroke-width="0.5" stroke-linejoin="round" />
<polyline points="84.5,290.0 84.5,401.0" fill="none" stroke="#2f8c48" stroke-width="0.8" stroke-linejoin="round" />
<polyline points="118.9,404.5 118.9,423.5" fill="none" stroke="#2f8c48" stroke-width="0.9" stroke-linejoin="round" />
<polyline points="155.9,423.0 155.9,444.0" fill="none" stroke="#2f8c48" stroke-width="0.9" stroke-linejoin="round" />
<polygon points="95.8,299.0 121.3,286.4 121.3,333.4 102.6,342.3" fill="#046a1c" stroke="none" stroke-width="1" stroke-linejoin="round" />
<polygon points="121.3,286.4 124.2,285.0 124.2,332.0 121.3,333.4" fill="#c9ccc2" stroke="none" stroke-width="1" stroke-linejoin="round" />
<path d="M100.7,292 L100.7,299.5 Q101.2,305 105.6,305 Q110.5,304.8 110.5,298.5 L110.5,288 Z" fill="#fff" stroke="#222" stroke-width="0.9"/>
<polygon points="45.5,268.0 99.0,295.6 150.0,266.0 100.0,289.0" fill="#47b35b" stroke="none" stroke-width="1" stroke-linejoin="round" />
<polyline points="45.5,269.0 95.0,295.5" fill="none" stroke="#d6ead8" stroke-width="2.0" stroke-linejoin="round" />
<polyline points="45.5,268.0 178.0,192.0" fill="none" stroke="#d6ecd9" stroke-width="1.2" stroke-linejoin="round" />
<polygon points="192.6,442.2 198.2,442.2 198.2,468.1 192.6,467.0" fill="#e4e8e4" stroke="#aaa" stroke-width="0.6" stroke-linejoin="round" />
<polygon points="198.2,442.2 276.0,399.3 305.3,411.7 307.5,411.7 328.7,370.6 375.0,353.3 433.6,321.0 435.0,366.0 308.7,437.7 305.3,436.5 276.0,423.0 198.2,468.1" fill="#47b35b" stroke="none" stroke-width="1" stroke-linejoin="round" />
<polygon points="305.3,411.7 308.7,411.7 308.7,437.7 305.3,436.5" fill="#e4e8e4" stroke="#aaa" stroke-width="0.6" stroke-linejoin="round" />
<polygon points="433.6,320.6 437.4,320.6 437.4,366.0 435.0,366.0" fill="#e4e8e4" stroke="#aaa" stroke-width="0.6" stroke-linejoin="round" />
<polyline points="225.3,427.5 225.3,449.0" fill="none" stroke="#2f8c48" stroke-width="0.8" stroke-linejoin="round" />
<polyline points="260.2,411.7 260.2,430.9" fill="none" stroke="#2f8c48" stroke-width="0.8" stroke-linejoin="round" />
<polyline points="331.3,370.0 331.3,429.0" fill="none" stroke="#2f8c48" stroke-width="0.8" stroke-linejoin="round" />
<polyline points="367.1,356.0 367.1,409.0" fill="none" stroke="#2f8c48" stroke-width="0.8" stroke-linejoin="round" />
<polyline points="401.6,338.0 401.6,388.0" fill="none" stroke="#2f8c48" stroke-width="0.8" stroke-linejoin="round" />
<polygon points="412.4,309.4 437.7,298.8 460.0,286.7 472.4,281.0 489.3,273.2 508.5,264.1 527.7,250.6 543.5,239.3 561.5,231.4 579.6,222.4 603.0,212.5 603.0,241.5 437.0,336.9 435.0,320.2" fill="#47b35b" stroke="none" stroke-width="1" stroke-linejoin="round" />
<polyline points="412.4,309.4 437.7,298.8 460.0,286.7 472.4,281.0 489.3,273.2 508.5,264.1 527.7,250.6 543.5,239.3 561.5,231.4 579.6,222.4 603.0,212.5" fill="none" stroke="#3f8f52" stroke-width="0.8" stroke-linejoin="round" />
<polyline points="603.0,241.5 437.0,336.9" fill="none" stroke="#3f8f52" stroke-width="0.8" stroke-linejoin="round" />
<polyline points="604.0,212.5 604.0,241.5" fill="none" stroke="#e8ece8" stroke-width="3" stroke-linejoin="round" />
<polyline points="438.0,298.5 438.0,336.5" fill="none" stroke="#2f8c48" stroke-width="0.8" stroke-linejoin="round" />
<polyline points="472.4,281.0 472.4,318.0" fill="none" stroke="#2f8c48" stroke-width="0.8" stroke-linejoin="round" />
<polyline points="508.5,264.1 508.5,298.0" fill="none" stroke="#2f8c48" stroke-width="0.8" stroke-linejoin="round" />
<polyline points="543.5,239.3 543.5,278.0" fill="none" stroke="#2f8c48" stroke-width="0.8" stroke-linejoin="round" />
<polyline points="578.6,222.8 578.6,258.0" fill="none" stroke="#2f8c48" stroke-width="0.8" stroke-linejoin="round" />
<polyline points="517.2,78.9 604.3,212.5" fill="none" stroke="#8a8a8a" stroke-width="2.2" stroke-linejoin="round" />
<polyline points="434.0,366.0 435.6,382.4 306.0,457.5 304.6,437.7" fill="none" stroke="#b8c0c0" stroke-width="1" stroke-linejoin="round" />
<polyline points="261.3,431.5 306.0,457.5" fill="none" stroke="#b8c0c0" stroke-width="1" stroke-linejoin="round" />
<polyline points="81.7,142.7 89.0,142.7 133.2,201.0" fill="none" stroke="#71808c" stroke-width="1" stroke-linejoin="round" />
<polygon points="133.2,201.0 125.9,195.3 129.7,192.4" fill="#0d3560"/>
<polyline points="62.6,201.4 71.4,201.4 89.0,244.0" fill="none" stroke="#71808c" stroke-width="1" stroke-linejoin="round" />
<polyline points="403.5,17.6 393.7,17.6 386.0,80.0" fill="none" stroke="#71808c" stroke-width="1" stroke-linejoin="round" />
<polyline points="500.0,428.4 486.0,428.4 435.0,366.5" fill="none" stroke="#71808c" stroke-width="1" stroke-linejoin="round" />
<polyline points="395.3,468.4 384.7,468.4 357.5,430.0" fill="none" stroke="#71808c" stroke-width="1" stroke-linejoin="round" />
<polygon points="357.5,430.0 364.7,436.0 360.7,438.7" fill="#0d3560"/>
<polygon points="377.5,347.0 381.3,355.5 376.6,356.3" fill="#0d3560"/>
<polyline points="320.3,53.7 310.2,53.7 291.7,274.8" fill="none" stroke="#e040d8" stroke-width="1" stroke-linejoin="round" />
<polygon points="291.7,275.0 290.1,265.8 294.9,266.2" fill="#e040d8"/>
<polyline points="571.6,54.7 563.7,54.7 496.0,185.0" fill="none" stroke="#e040d8" stroke-width="1" stroke-linejoin="round" />
<polygon points="496.0,185.0 498.1,175.9 502.3,178.1" fill="#e040d8"/>
<polyline points="79.7,437.0 88.1,437.0 124.2,368.4" fill="none" stroke="#e040d8" stroke-width="1" stroke-linejoin="round" />
<polygon points="124.2,368.4 122.1,377.5 117.8,375.2" fill="#e040d8"/>
</svg>
<div class="L b" style="left:153.2px;top:88.6px"><span>进风管道</span></div>
<div class="L b" style="left:86.7px;top:108.9px"><span>精过滤层</span></div>
<div class="L b" style="left:29.8px;top:139.0px"><span>进风机柜</span></div>
<div class="L b" style="left:11.6px;top:200.6px"><span>进货大门</span></div>
<div class="L b" style="left:406.3px;top:22.2px"><span>出货大门</span></div>
<div class="L b" style="left:498.0px;top:31.9px"><span>红外线烤灯</span></div>
<div class="L b" style="left:626.5px;top:297.0px"><span>成品</span></div>
<div class="L b" style="left:500.6px;top:431.7px"><span>漆雾排出口</span></div>
<div class="L b" style="left:465.7px;top:462.5px"><span>水帘系统</span></div>
<div class="L b" style="left:395.8px;top:473.8px"><span>水池地坑</span></div>
<div class="L b" style="left:334.6px;top:487.0px"><span>照明系统</span></div>
<div class="L b" style="left:279.2px;top:496.6px"><span>地格网</span></div>
<div class="L b" style="left:72.3px;top:474.3px"><span>待喷半成品</span></div>
<div class="L p" style="left:321.7px;top:52.5px"><span>喷漆房</span></div>
<div class="L p" style="left:573.6px;top:55.0px"><span>表干房</span></div>
<div class="L p" style="left:29.3px;top:435.2px"><span>准备房</span></div>
<script>(function(){var s=document.createElement('span');s.style.cssText='position:absolute;left:-999px;top:0;font-family:"Liberation Sans",sans-serif;font-size:100px;white-space:nowrap';s.textContent='出';document.body.appendChild(s);var w=s.getBoundingClientRect().width;document.body.removeChild(s);if(w>88){document.body.className+=' cjk';}})();</script>
</body></html>
